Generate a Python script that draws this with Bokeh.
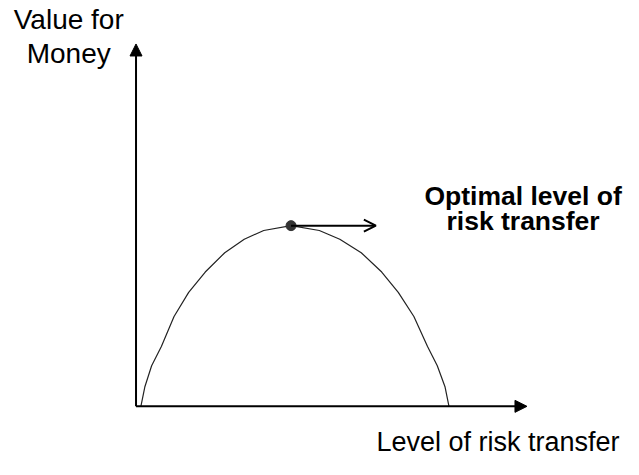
from bokeh.plotting import figure
from bokeh.models import Range1d, Arrow, NormalHead, OpenHead
from bokeh.core.properties import value
from bokeh.embed import file_html
from bokeh.resources import INLINE

# Curve: level of risk transfer (x) vs value for money (y)
risk_level = [5, 9, 16, 26, 39, 54, 71, 91, 111, 131, 159,
              188, 209, 231, 252, 269, 285, 299, 309, 317, 321]
value_for_money = [0, 20, 42, 62, 93, 118, 139, 159, 173, 182, 187,
                   182, 173, 159, 139, 118, 93, 62, 42, 20, 0]

# Optimal point and its arrow
optimum_x = [159]
optimum_y = [187]
optimum_arrow_end_x = 246

# Axis extents
x_axis_end = 401
y_axis_end = 375

# Labels
y_label_lines = ["Value for", "Money"]
x_label = "Level of risk transfer"
optimum_label_lines = ["Optimal level of", "risk transfer"]

p = figure(width=623, height=459, output_backend="svg", toolbar_location=None,
           x_axis_type=None, y_axis_type=None, min_border=0,
           x_range=Range1d(-139, 500), y_range=Range1d(-55, 420))
p.grid.visible = False
p.outline_line_color = None
p.background_fill_color = "white"
p.border_fill_color = "white"

# Axes as arrows
p.add_layout(Arrow(x_start=0, y_start=0, x_end=0, y_end=y_axis_end,
                   line_width=2, line_color="black",
                   end=NormalHead(size=12, fill_color="black", line_color="black")))
p.add_layout(Arrow(x_start=0, y_start=0, x_end=x_axis_end, y_end=0,
                   line_width=2, line_color="black",
                   end=NormalHead(size=12, fill_color="black", line_color="black")))

# Curve
p.line(risk_level, value_for_money, line_color="#222222", line_width=1.2)

# Optimum arrow and dot
p.add_layout(Arrow(x_start=optimum_x[0], y_start=optimum_y[0],
                   x_end=optimum_arrow_end_x, y_end=optimum_y[0],
                   line_width=2, line_color="black",
                   end=OpenHead(size=12, line_width=2, line_color="black")))
p.scatter(optimum_x, optimum_y, size=10, color="#333333")

font = value("Liberation Sans")

p.text(x=[-69, -69], y=[400, 365], text=y_label_lines, text_font=font,
       text_font_size="28px", text_align="center", text_baseline="alphabetic",
       text_color="black")
p.text(x=[496], y=[-37], text=[x_label], text_font=font,
       text_font_size="27px", text_align="right", text_baseline="alphabetic",
       text_color="black")
p.text(x=[397, 397], y=[218, 192], text=optimum_label_lines, text_font=font,
       text_font_size="26.5px", text_font_style="bold", text_align="center",
       text_baseline="alphabetic", text_color="black")

open("out.html", "w").write(file_html(p, INLINE))
